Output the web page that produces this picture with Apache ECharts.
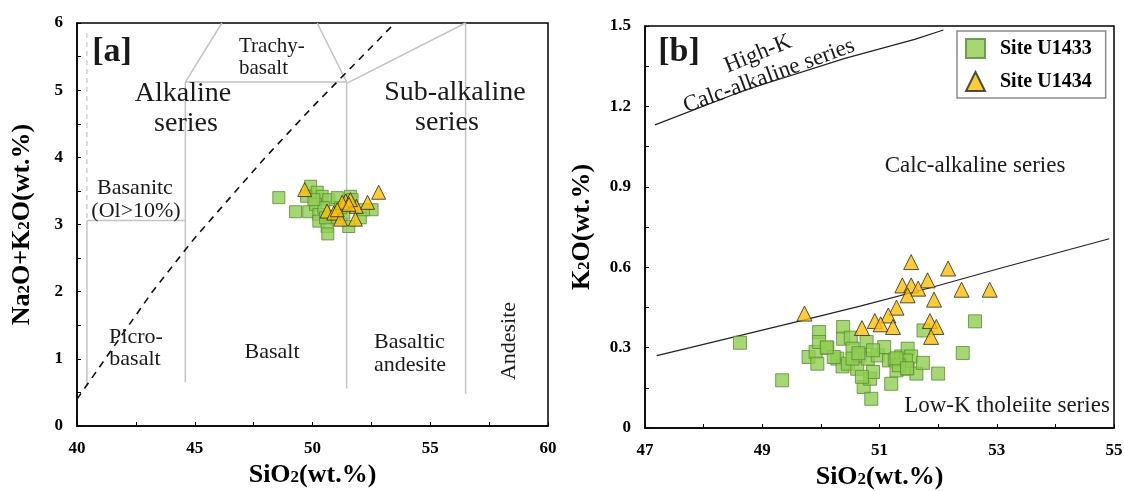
<!DOCTYPE html>
<html>
<head>
<meta charset="utf-8">
<script src="https://cdn.jsdelivr.net/npm/echarts@6/dist/echarts.min.js"></script>
<style>
  html, body { margin: 0; padding: 0; background: #fff; }
  #chart { width: 1124px; height: 491px; }
</style>
</head>
<body>
<div id="chart"></div>
<script>
// ---------- data ----------
// [a] total alkali vs silica (wt.%)
const tasU1433SiO2 = [48.57, 49.28, 49.84, 49.92, 49.75, 50.20, 50.41, 50.69, 50.13, 50.27, 50.27, 50.62, 50.65, 50.76,
  51.05, 51.54, 51.61, 51.68, 52.03, 52.53, 52.17, 51.05, 51.33, 50.48, 50.06, 50.55, 51.20];
const tasU1433Alk = [3.40, 3.19, 3.19, 3.57, 3.42, 3.48, 3.42, 3.37, 3.30, 3.15, 3.05, 2.97, 2.86, 3.12,
  3.10, 2.97, 3.42, 3.37, 3.10, 3.22, 3.22, 3.40, 3.17, 3.25, 3.37, 3.10, 3.25];
const tasU1434SiO2 = [49.67, 52.81, 51.41, 51.86, 52.34, 50.62, 50.90, 51.19, 51.82, 51.61, 51.26, 51.05, 51.55];
const tasU1434Alk = [3.52, 3.48, 3.35, 3.27, 3.33, 3.20, 3.17, 3.08, 3.08, 3.37, 3.33, 3.22, 3.30];

// [b] K2O vs silica (wt.%)
const kU1433SiO2 = [48.62, 49.34, 49.79, 49.91, 49.97, 49.97, 49.94, 50.11, 50.28, 50.37, 50.38, 50.38, 50.51, 50.46,
  50.54, 50.62, 50.66, 50.78, 50.80, 50.73, 50.84, 50.86, 50.89, 50.97, 51.08, 51.16, 51.20, 51.26, 51.29, 51.37,
  51.48, 51.48, 51.54, 51.63, 51.74, 51.75, 52.00, 52.42, 52.63, 51.45, 51.33, 50.89, 50.54, 50.22, 50.10, 50.64,
  50.70, 51.29, 51.47];
const kU1433K2O = [0.318, 0.178, 0.265, 0.284, 0.358, 0.321, 0.240, 0.299, 0.259, 0.230, 0.377, 0.333, 0.337, 0.240,
  0.296, 0.221, 0.271, 0.321, 0.259, 0.153, 0.184, 0.109, 0.209, 0.271, 0.302, 0.252, 0.165, 0.255, 0.215, 0.267,
  0.296, 0.221, 0.267, 0.203, 0.243, 0.364, 0.203, 0.280, 0.398, 0.252, 0.234, 0.290, 0.259, 0.265, 0.301, 0.279,
  0.191, 0.260, 0.223];
const kU1434SiO2 = [49.72, 51.54, 52.17, 51.82, 51.39, 51.54, 51.66, 51.48, 52.40, 52.88, 51.93, 51.29, 51.15, 50.92,
  51.02, 51.23, 50.70, 51.86, 51.97, 51.88];
const kU1434K2O = [0.427, 0.619, 0.595, 0.551, 0.532, 0.532, 0.520, 0.495, 0.516, 0.516, 0.479, 0.449, 0.420, 0.399,
  0.387, 0.377, 0.373, 0.399, 0.377, 0.340];

// field boundaries of the TAS diagram (SiO2, Na2O+K2O)
const tasFieldSegments = [
  [[40.42, 3.06], [40.42, 0.60]],
  [[40.42, 3.06], [44.60, 3.06]],
  [[44.60, 0.65], [44.60, 5.12]],
  [[46.15, 6.00], [44.60, 5.12], [51.45, 5.12], [50.20, 6.00]],
  [[51.45, 0.56], [51.45, 5.10], [56.50, 6.00]],
  [[56.50, 6.00], [56.50, 0.48]]
];
const tasBasaniteDashed = [[40.42, 5.85], [40.42, 3.06]];
// alkaline / sub-alkaline divide
const alkalineDivide = [[40.0, 0.4], [43.2, 2.0], [45.0, 2.8], [48.0, 4.0], [50.0, 4.75], [53.5, 6.0]];
// K2O series boundaries
const highKBoundary = [[47.17, 1.131], [48.71, 1.261], [50.41, 1.379], [51.60, 1.450], [52.09, 1.485]];
const lowKBoundary = [[47.20, 0.270], [47.77, 0.300], [49.65, 0.400], [50.67, 0.455], [51.93, 0.527], [53.06, 0.596], [54.92, 0.706]];

// axis ticks
const tasXTicks = [40, 45, 50, 55, 60];
const tasYTicks = [0, 1, 2, 3, 4, 5, 6];
const kXTicks = [47, 49, 51, 53, 55];
const kYTicks = [0, 0.3, 0.6, 0.9, 1.2, 1.5];

// ---------- chart ----------
const SERIF = '"Liberation Serif", "Times New Roman", "DejaVu Serif", serif';
const pair = (xs, ys) => xs.map((x, i) => [x, ys[i]]);

function makeAxis(ticks, gridIndex, nameRich, nameGap) {
  return {
    type: 'value',
    gridIndex: gridIndex,
    min: ticks[0],
    max: ticks[ticks.length - 1],
    interval: ticks[1] - ticks[0],
    axisLine: { show: true, onZero: false, lineStyle: { color: '#000', width: 1.5 } },
    axisTick: { show: true, inside: true, length: 4, lineStyle: { color: '#000', width: 1 } },
    minorTick: { show: true, splitNumber: 2, length: 4, lineStyle: { color: '#000', width: 1 } },
    splitLine: { show: false },
    axisLabel: {
      color: '#000', fontFamily: SERIF, fontWeight: 'bold', fontSize: 17, margin: 14,
      formatter: v => String(Math.round(v * 10) / 10)
    },
    name: nameRich,
    nameLocation: 'middle',
    nameGap: nameGap,
    nameTextStyle: {
      color: '#000',
      rich: {
        b: { fontFamily: SERIF, fontWeight: 'bold', fontSize: 26, color: '#000' },
        s: { fontFamily: SERIF, fontWeight: 'bold', fontSize: 17, color: '#000', padding: [6, 0, 0, 0] }
      }
    }
  };
}

function boundary(points, xi, color, width, type) {
  return {
    type: 'line', xAxisIndex: xi, yAxisIndex: xi, data: points,
    showSymbol: false, symbol: 'none', silent: true, animation: false, z: 1,
    lineStyle: { color: color, width: width, type: type || 'solid' }
  };
}

const squareStyle = { color: '#8fce50', borderColor: '#5b8a37', borderWidth: 1 };
const triangleStyle = { color: '#ffc000', borderColor: '#262626', borderWidth: 1 };

const series = [];
tasFieldSegments.forEach(seg => series.push(boundary(seg, 0, '#c4c4c4', 1.5)));
series.push(boundary(tasBasaniteDashed, 0, '#c4c4c4', 1.2, [5, 4]));
series.push(boundary(alkalineDivide, 0, '#111', 1.6, [7, 6]));
series.push(boundary(highKBoundary, 1, '#222', 1.2));
series.push(boundary(lowKBoundary, 1, '#222', 1.2));

series.push({
  name: 'Site U1433', type: 'scatter', xAxisIndex: 0, yAxisIndex: 0,
  data: pair(tasU1433SiO2, tasU1433Alk), symbol: 'rect', symbolSize: 12, itemStyle: squareStyle, z: 3
});
series.push({
  name: 'Site U1434', type: 'scatter', xAxisIndex: 0, yAxisIndex: 0,
  data: pair(tasU1434SiO2, tasU1434Alk), symbol: 'triangle', symbolSize: 14, itemStyle: triangleStyle, z: 4
});
series.push({
  name: 'Site U1433', type: 'scatter', xAxisIndex: 1, yAxisIndex: 1,
  data: pair(kU1433SiO2, kU1433K2O), symbol: 'rect', symbolSize: 13, itemStyle: squareStyle, z: 3
});
series.push({
  name: 'Site U1434', type: 'scatter', xAxisIndex: 1, yAxisIndex: 1,
  data: pair(kU1434SiO2, kU1434K2O), symbol: 'triangle', symbolSize: 15, itemStyle: triangleStyle, z: 4
});

function label(text, x, y, size, opts) {
  opts = opts || {};
  return {
    type: 'text', x: x, y: y, rotation: opts.rotation || 0, z: 10, silent: true,
    style: {
      text: text, fill: '#1a1a1a',
      font: (opts.bold ? 'bold ' : '') + size + 'px ' + SERIF,
      align: opts.align || 'center', verticalAlign: 'middle'
    }
  };
}
const deg = d => d * Math.PI / 180;

const option = {
  animation: false,
  backgroundColor: '#fff',
  grid: [
    { left: 77, top: 23, width: 471, height: 403, show: true, borderColor: '#000', borderWidth: 1.5,
      outerBoundsMode: 'none' },
    { left: 645, top: 26, width: 469, height: 402, show: true, borderColor: '#000', borderWidth: 1.5,
      outerBoundsMode: 'none' }
  ],
  xAxis: [
    makeAxis(tasXTicks, 0, '{b|SiO}{s|2}{b|(wt.%)}', 36),
    makeAxis(kXTicks, 1, '{b|SiO}{s|2}{b|(wt.%)}', 34)
  ],
  yAxis: [
    makeAxis(tasYTicks, 0, '{b|Na}{s|2}{b|O+K}{s|2}{b|O(wt.%)}', 42),
    makeAxis(kYTicks, 1, '{b|K}{s|2}{b|O(wt.%)}', 50)
  ],
  legend: {
    data: [{ name: 'Site U1433', icon: 'rect' }, { name: 'Site U1434', icon: 'triangle' }],
    orient: 'vertical', left: 957, top: 31,
    itemWidth: 19, itemHeight: 19, itemGap: 12,
    padding: [7, 14, 6, 8],
    backgroundColor: '#fff', borderColor: '#8a8a8a', borderWidth: 1.5,
    textStyle: { fontFamily: SERIF, fontWeight: 'bold', fontSize: 20, color: '#000', padding: [0, 0, 0, 10] }
  },
  graphic: [
    // panel a
    label('[a]', 112, 52, 34, { bold: true }),
    label('Trachy-', 239, 46, 21, { align: 'left' }),
    label('basalt', 239, 68, 21, { align: 'left' }),
    label('Alkaline', 183, 94, 28),
    label('series', 186, 124, 28),
    label('Sub-alkaline', 455, 93, 28),
    label('series', 447, 123, 28),
    label('Basanitc', 135, 188, 22),
    label('(Ol>10%)', 136, 211, 22),
    label('Picro-', 136, 337, 22),
    label('basalt', 135, 359, 22),
    label('Basalt', 272, 352, 22),
    label('Basaltic', 374, 342, 22, { align: 'left' }),
    label('andesite', 374, 365, 22, { align: 'left' }),
    label('Andesite', 509, 341, 22, { rotation: deg(90) }),
    // panel b
    label('[b]', 679, 52, 34, { bold: true }),
    label('High-K', 758, 54, 23, { rotation: deg(22) }),
    label('Calc-alkaline series', 769, 76, 23, { rotation: deg(20) }),
    label('Calc-alkaline series', 975, 166, 23),
    label('Low-K tholeiite series', 1007, 406, 23)
  ],
  series: series
};

const chart = echarts.init(document.getElementById('chart'), null, { renderer: 'canvas' });
chart.setOption(option);
</script>
</body>
</html>
